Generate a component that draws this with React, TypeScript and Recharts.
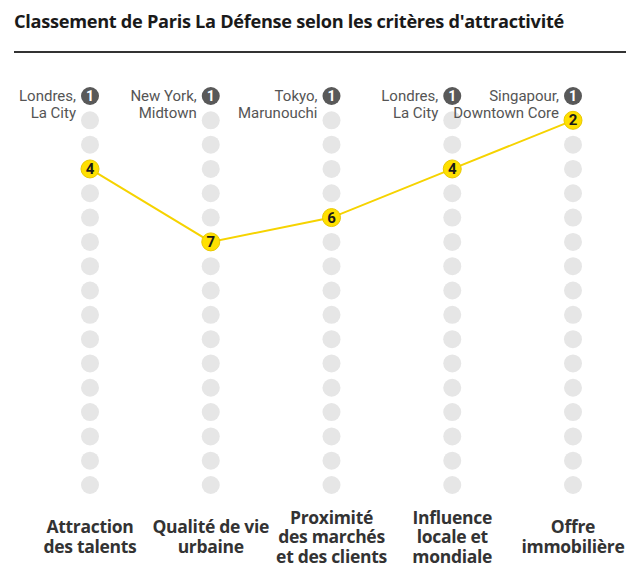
import React from "react";
import { LineChart, Line, XAxis, YAxis, ReferenceDot } from "recharts";

const CATEGORIES = [
  "Attraction des talents",
  "Qualité de vie urbaine",
  "Proximité des marchés et des clients",
  "Influence locale et mondiale",
  "Offre immobilière",
];
const CATEGORY_LINES = [
  ["Attraction", "des talents"],
  ["Qualité de vie", "urbaine"],
  ["Proximité", "des marchés", "et des clients"],
  ["Influence", "locale et", "mondiale"],
  ["Offre", "immobilière"],
];
const PARIS_RANKS = [4, 7, 6, 4, 2];
const LEADERS = [
  ["Londres,", "La City"],
  ["New York,", "Midtown"],
  ["Tokyo,", "Marunouchi"],
  ["Londres,", "La City"],
  ["Singapour,", "Downtown Core"],
];
const RANK_SLOTS = [1, 2, 3, 4, 5, 6, 7, 8, 9, 10, 11, 12, 13, 14, 15, 16, 17];

const FONT = "'Open Sans', Roboto, sans-serif";
const FONT2 = "Roboto, 'Noto Sans', sans-serif";
const YELLOW = "#ffe000";
const LINE_YELLOW = "#f6d300";

const data = CATEGORIES.map((cat, i) => ({ cat, rank: PARIS_RANKS[i] }));

const CategoryTick = (props: any) => {
  const { x, payload } = props;
  const idx = CATEGORIES.indexOf(payload.value);
  const lines = CATEGORY_LINES[idx] || [payload.value];
  const lh = 19.5;
  const center = 537;
  const start = center - ((lines.length - 1) * lh) / 2;
  return (
    <g>
      {lines.map((l, k) => (
        <text
          key={k}
          x={x}
          y={start + k * lh}
          dy={6}
          textAnchor="middle"
          fontFamily={FONT}
          fontWeight={700}
          fontSize={17.5}
          letterSpacing={-0.3}
          fill="#333333"
        >
          {l}
        </text>
      ))}
    </g>
  );
};

const makeLeaderShape = (lines: string[]) => (props: any) => {
  const { cx, cy } = props;
  return (
    <g>
      <circle cx={cx} cy={cy} r={9} fill="#595959" />
      <text
        x={cx}
        y={cy}
        dy={5}
        textAnchor="middle"
        fontFamily={FONT2}
        fontWeight={700}
        fontSize={14}
        fill="#ffffff"
      >
        1
      </text>
      {lines.map((l, k) => (
        <text
          key={k}
          x={cx - 14}
          y={cy + k * 17}
          dy={5}
          textAnchor="end"
          fontFamily={FONT2}
          fontSize={15}
          fill="#555555"
        >
          {l}
        </text>
      ))}
    </g>
  );
};

const greyShape = (props: any) => {
  const { cx, cy } = props;
  return <circle cx={cx} cy={cy} r={9} fill="#e6e6e6" />;
};

const ParisDot = (props: any) => {
  const { cx, cy, payload } = props;
  return (
    <g>
      <circle cx={cx} cy={cy} r={9} fill={YELLOW} stroke="#e9c800" strokeWidth={1} />
      <text
        x={cx}
        y={cy}
        dy={5}
        textAnchor="middle"
        fontFamily={FONT2}
        fontWeight={700}
        fontSize={15}
        fill="#1a1a1a"
      >
        {payload.rank}
      </text>
    </g>
  );
};

export default function App() {
  return (
    <div
      style={{
        position: "absolute",
        left: 0,
        top: 0,
        width: 641,
        height: 576,
        background: "#ffffff",
      }}
    >
      <div
        style={{
          position: "absolute",
          left: 14,
          top: 8,
          fontFamily: FONT,
          fontWeight: 700,
          fontSize: 18.2,
          letterSpacing: -0.3,
          color: "#1a1a1a",
          whiteSpace: "nowrap",
          lineHeight: "26px",
        }}
      >
        Classement de Paris La Défense selon les critères d'attractivité
      </div>
      <div
        style={{
          position: "absolute",
          left: 14,
          top: 51,
          width: 612,
          height: 1.5,
          background: "#333333",
        }}
      />
      <div style={{ position: "absolute", left: 0, top: 0 }}>
        <LineChart
          width={641}
          height={576}
          data={data}
          margin={{ top: 96, right: 68, bottom: 11, left: 90 }}
        >
          <XAxis
            dataKey="cat"
            type="category"
            axisLine={false}
            tickLine={false}
            interval={0}
            height={80}
            tick={<CategoryTick />}
          />
          <YAxis hide type="number" domain={[1, 17]} reversed />
          {CATEGORIES.map((cat, i) =>
            RANK_SLOTS.filter((r) => r !== PARIS_RANKS[i]).map((r) => (
              <ReferenceDot
                key={`${i}-${r}`}
                x={cat}
                y={r}
                r={9}
                ifOverflow="visible"
                shape={r === 1 ? makeLeaderShape(LEADERS[i]) : greyShape}
              />
            ))
          )}
          <Line
            dataKey="rank"
            stroke={LINE_YELLOW}
            strokeWidth={2}
            dot={<ParisDot />}
            activeDot={false}
            isAnimationActive={false}
          />
        </LineChart>
      </div>
    </div>
  );
}
